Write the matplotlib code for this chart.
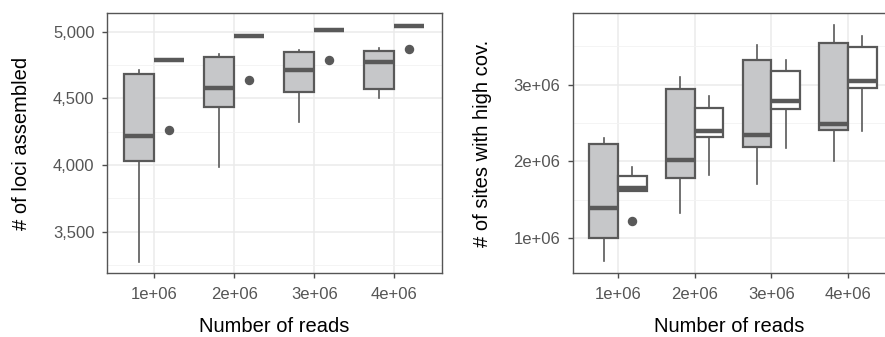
import numpy as np
import matplotlib
matplotlib.use("Agg")
import matplotlib.pyplot as plt
from matplotlib.ticker import FuncFormatter, MultipleLocator

plt.rcParams['font.family'] = ['Liberation Sans', 'DejaVu Sans']

# x positions (millions of reads) and labels
reads = [1, 2, 3, 4]
read_labels = ['1e+06', '2e+06', '3e+06', '4e+06']

# left panel: loci assembled  (whislo, q1, med, q3, whishi)
loci_grey = [
    (3275, 4030, 4218, 4683, 4713),
    (3988, 4438, 4581, 4810, 4830),
    (4325, 4550, 4710, 4845, 4863),
    (4500, 4568, 4773, 4855, 4880),
]
loci_white = [
    (4788, 4788, 4788, 4788, 4788),
    (4965, 4965, 4965, 4965, 4965),
    (5013, 5013, 5013, 5013, 5013),
    (5045, 5045, 5045, 5045, 5045),
]
loci_white_out = [[4266], [4638], [4790], [4873]]
loci_grey_out = [[], [], [], []]

# right panel: sites with high coverage (in millions)
sites_grey = [
    (0.70, 1.00, 1.39, 2.225, 2.30),
    (1.325, 1.78, 2.013, 2.94, 3.10),
    (1.71, 2.19, 2.34, 3.315, 3.52),
    (2.004, 2.41, 2.49, 3.545, 3.78),
]
sites_white = [
    (1.61, 1.61, 1.65, 1.81, 1.93),
    (1.83, 2.32, 2.39, 2.70, 2.85),
    (2.17, 2.68, 2.78, 3.17, 3.325),
    (2.39, 2.95, 3.05, 3.49, 3.63),
]
sites_white_out = [[1.225], [], [], []]
sites_grey_out = [[], [], [], []]

EDGE = '#595959'
GREY_FILL = '#C6C7C9'
W = 0.375


def make_stats(rows, outs, scale=1.0):
    stats = []
    for (lo, q1, med, q3, hi), fl in zip(rows, outs):
        stats.append(dict(whislo=lo * scale, q1=q1 * scale, med=med * scale,
                          q3=q3 * scale, whishi=hi * scale,
                          fliers=np.array(fl) * scale))
    return stats


def draw_group(ax, stats, offset, fill):
    pos = [r + offset for r in reads]
    ax.bxp(stats, positions=pos, widths=W, patch_artist=True,
           showcaps=False, manage_ticks=False,
           boxprops=dict(facecolor=fill, edgecolor=EDGE, linewidth=1.6),
           whiskerprops=dict(color=EDGE, linewidth=1.2),
           medianprops=dict(color=EDGE, linewidth=3.2, solid_capstyle='butt'),
           flierprops=dict(marker='o', markerfacecolor=EDGE,
                           markeredgecolor=EDGE, markersize=5.8))


def style(ax, major, minor, ylim, fmt):
    ax.set_xlim(0.41, 4.59)
    ax.set_ylim(*ylim)
    ax.set_xticks(reads)
    ax.set_xticklabels(read_labels)
    ax.yaxis.set_major_locator(MultipleLocator(major))
    ax.yaxis.set_minor_locator(MultipleLocator(minor))
    ax.yaxis.set_major_formatter(FuncFormatter(fmt))
    ax.grid(True, which='major', color='#EBEBEB', linewidth=1.1, zorder=0)
    ax.grid(True, which='minor', axis='y', color='#F3F3F3', linewidth=0.6, zorder=0)
    ax.set_axisbelow(True)
    ax.tick_params(which='major', length=3.5, width=1.0, color='#4D4D4D',
                   labelcolor='#555555', labelsize=12)
    ax.tick_params(axis='x', which='major', pad=6.5)
    ax.tick_params(axis='y', which='major', pad=5.5)
    ax.tick_params(which='minor', length=0)
    for s in ax.spines.values():
        s.set_color('#555555')
        s.set_linewidth(1.0)


fig = plt.figure(figsize=(8.85, 3.37), dpi=100)
H = 337.0
FW = 885.0
ax1 = fig.add_axes([107 / FW, (H - 273) / H, 334.7 / FW, 260 / H])
ax2 = fig.add_axes([572.7 / FW, (H - 273) / H, 320.6 / FW, 260 / H])

draw_group(ax1, make_stats(loci_grey, loci_grey_out), -W / 2, GREY_FILL)
draw_group(ax1, make_stats(loci_white, loci_white_out), W / 2, 'white')
style(ax1, 500, 250, (3190, 5140), lambda v, p: f'{int(v):,}')

draw_group(ax2, make_stats(sites_grey, sites_grey_out, 1e6), -W / 2, GREY_FILL)
draw_group(ax2, make_stats(sites_white, sites_white_out, 1e6), W / 2, 'white')
style(ax2, 1e6, 5e5, (0.55e6, 3.93e6), lambda v, p: f'{int(round(v / 1e6))}e+06')

for ax, ylab, x_center, y_center in [
        (ax1, '# of loci assembled', (274 - 107) / 334.7, (21.7 - 107) / 334.7),
        (ax2, '# of sites with high cov.', (729 - 572.7) / 320.6, (483 - 572.7) / 320.6)]:
    ax.set_xlabel('Number of reads', fontsize=14.5, va='center')
    ax.set_ylabel(ylab, fontsize=14.5, va='center')
    ax.xaxis.set_label_coords(x_center, (273 - 327) / 260)
    ax.yaxis.set_label_coords(y_center, 0.5)

fig.savefig('out.png', dpi=100)
